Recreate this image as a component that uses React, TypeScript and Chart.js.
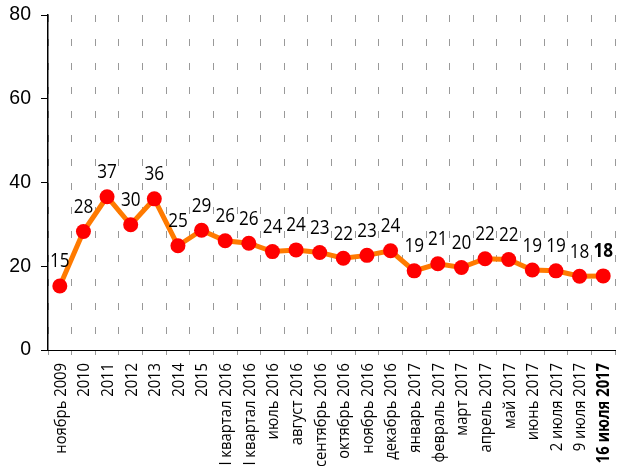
import React, { useEffect, useRef } from "react";
import { Chart, registerables } from "chart.js";

Chart.register(...registerables);

const categories = [
  "ноябрь 2009", "2010", "2011", "2012", "2013", "2014", "2015",
  "I квартал 2016", "II квартал 2016", "июль 2016", "август 2016",
  "сентябрь 2016", "октябрь 2016", "ноябрь 2016", "декабрь 2016",
  "январь 2017", "февраль 2017", "март 2017", "апрель 2017", "май 2017",
  "июнь 2017", "2 июля 2017", "9 июля 2017", "16 июля 2017",
];

const values = [
  15.3, 28.3, 36.6, 29.9, 36.1, 24.9, 28.6, 26.1, 25.5, 23.5, 23.9,
  23.3, 21.9, 22.6, 23.7, 18.9, 20.6, 19.7, 21.8, 21.6, 19.1, 18.9, 17.6, 17.7,
];

const valueLabels = [
  "15", "28", "37", "30", "36", "25", "29", "26", "26", "24", "24",
  "23", "22", "23", "24", "19", "21", "20", "22", "22", "19", "19", "18", "18",
];

const yTicks = [0, 20, 40, 60, 80];

const SANS = "'Liberation Sans', Arial, sans-serif";
const OPEN = "'Open Sans', 'Noto Sans', sans-serif";

const textPlugin = {
  id: "narrowTexts",
  afterDatasetsDraw(chart: any) {
    const ctx = chart.ctx;
    const meta = chart.getDatasetMeta(0);
    const xs = chart.scales.x;
    ctx.save();
    ctx.fillStyle = "#000";
    ctx.textAlign = "center";
    ctx.textBaseline = "middle";
    meta.data.forEach((pt: any, i: number) => {
      const last = i === meta.data.length - 1;
      ctx.font = `${last ? "bold " : ""}19.5px ${OPEN}`;
      ctx.save();
      ctx.translate(pt.x, pt.y - 24);
      ctx.scale(0.88, 1);
      ctx.fillText(valueLabels[i], 0, 0);
      ctx.restore();
    });
    ctx.textAlign = "right";
    ctx.textBaseline = "middle";
    categories.forEach((lab, i) => {
      const last = i === categories.length - 1;
      ctx.font = `${last ? "bold " : ""}17.2px ${OPEN}`;
      const x = xs.getPixelForValue(i) + 1;
      ctx.save();
      ctx.translate(x, xs.top + 13);
      ctx.rotate(-Math.PI / 2);
      ctx.scale(0.86, 1);
      ctx.fillText(lab, 0, 0);
      ctx.restore();
    });
    ctx.restore();
  },
};

export default function App() {
  const ref = useRef<HTMLCanvasElement | null>(null);

  useEffect(() => {
    document.body.style.margin = "0";
    const chart = new Chart(ref.current!, {
      type: "line",
      data: {
        labels: categories,
        datasets: [
          {
            data: values,
            borderColor: "#ff7a00",
            borderWidth: 5,
            pointBackgroundColor: "#ff0000",
            pointBorderColor: "#ff0000",
            pointBorderWidth: 0,
            pointRadius: 7.5,
            tension: 0,
          },
        ],
      },
      options: {
        animation: false,
        responsive: false,
        maintainAspectRatio: false,
        layout: { autoPadding: false, padding: { top: 15, right: 2, left: 0, bottom: 0 } },
        plugins: {
          legend: { display: false },
          tooltip: { enabled: false },
        },
        scales: {
          x: {
            offset: true,
            grid: {
              offset: true,
              color: "#999999",
              lineWidth: 1,
              drawTicks: true,
              tickLength: 5,
              tickColor: "#999999",
              tickBorderDash: [],
            },
            border: { display: true, color: "#000", width: 1, dash: [7, 17] },
            ticks: { display: false, autoSkip: false },
            afterFit: (s: any) => {
              s.height = 116;
              s.paddingLeft = 0;
              s.paddingRight = 0;
            },
          },
          y: {
            min: 0,
            max: 80,
            afterBuildTicks: (s: any) => {
              s.ticks = yTicks.map((v) => ({ value: v }));
            },
            grid: {
              drawOnChartArea: false,
              drawTicks: true,
              tickLength: 7,
              tickColor: "#000",
            },
            border: { display: true, color: "#000", width: 1.5 },
            ticks: {
              padding: 10,
              color: "#000",
              font: { family: SANS, size: 19.5 },
            },
            afterFit: (s: any) => {
              s.width = 48;
              s.paddingTop = 0;
              s.paddingBottom = 0;
            },
          },
        },
      },
      plugins: [textPlugin],
    });
    return () => chart.destroy();
  }, []);

  return (
    <div style={{ position: "absolute", left: 0, top: 0, width: 617, height: 466 }}>
      <canvas ref={ref} width={617} height={466} />
    </div>
  );
}
